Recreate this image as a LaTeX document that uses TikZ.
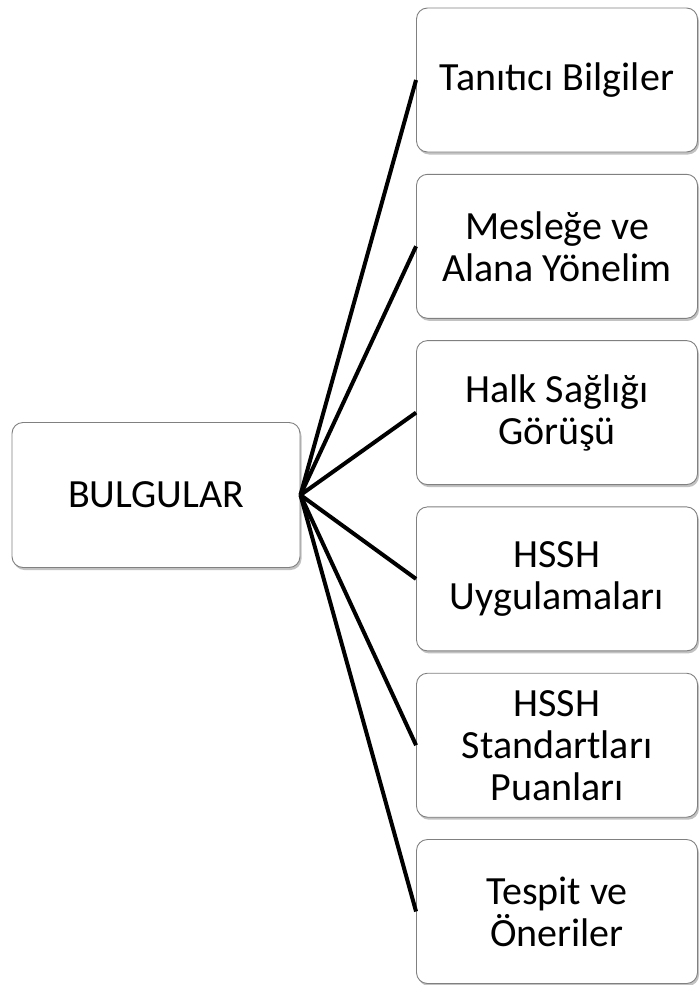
\documentclass[tikz,border=0pt]{standalone}
\usepackage{fontspec}
\setmainfont{Carlito}
\usetikzlibrary{shadows}
\tikzset{
	box/.style={draw=black!50, line width=0.9pt, fill=white, rounded corners=11pt,
		inner sep=0pt, align=center, font=\fontsize{40}{42}\selectfont,
		drop shadow={shadow xshift=1.5pt, shadow yshift=-2.5pt, opacity=0.4, fill=black!60}},
	mainbox/.style={box, minimum width=288pt, minimum height=145pt},
	leaf/.style={box, minimum width=281pt, minimum height=144pt},
	link/.style={line width=4pt, black}
}

\begin{document}
\begin{tikzpicture}[x=1pt, y=1pt]
		%%%%% START %%%%%
		
		\useasboundingbox (0, 0) rectangle (699, -985);
		
		\node[mainbox] (bulgular) at (156, -495) {BULGULAR};
		
		\node[leaf] (tanitici) at (557, -80) {Tanıtıcı Bilgiler};
		\node[leaf] (meslege) at (557, -246.3) {Mesleğe ve\\Alana Yönelim};
		\node[leaf] (halk) at (557, -412.6) {Halk Sağlığı\\Görüşü};
		\node[leaf] (uygulama) at (557, -578.9) {HSSH\\Uygulamaları};
		\node[leaf] (standart) at (557, -745.2) {HSSH\\Standartları\\Puanları};
		\node[leaf] (tespit) at (557, -911.5) {Tespit ve\\Öneriler};
		
		\draw[link] (bulgular.east) -- (tanitici.west);
		\draw[link] (bulgular.east) -- (meslege.west);
		\draw[link] (bulgular.east) -- (halk.west);
		\draw[link] (bulgular.east) -- (uygulama.west);
		\draw[link] (bulgular.east) -- (standart.west);
		\draw[link] (bulgular.east) -- (tespit.west);
		
		%%%%% END %%%%%
	\end{tikzpicture}
\end{document}
